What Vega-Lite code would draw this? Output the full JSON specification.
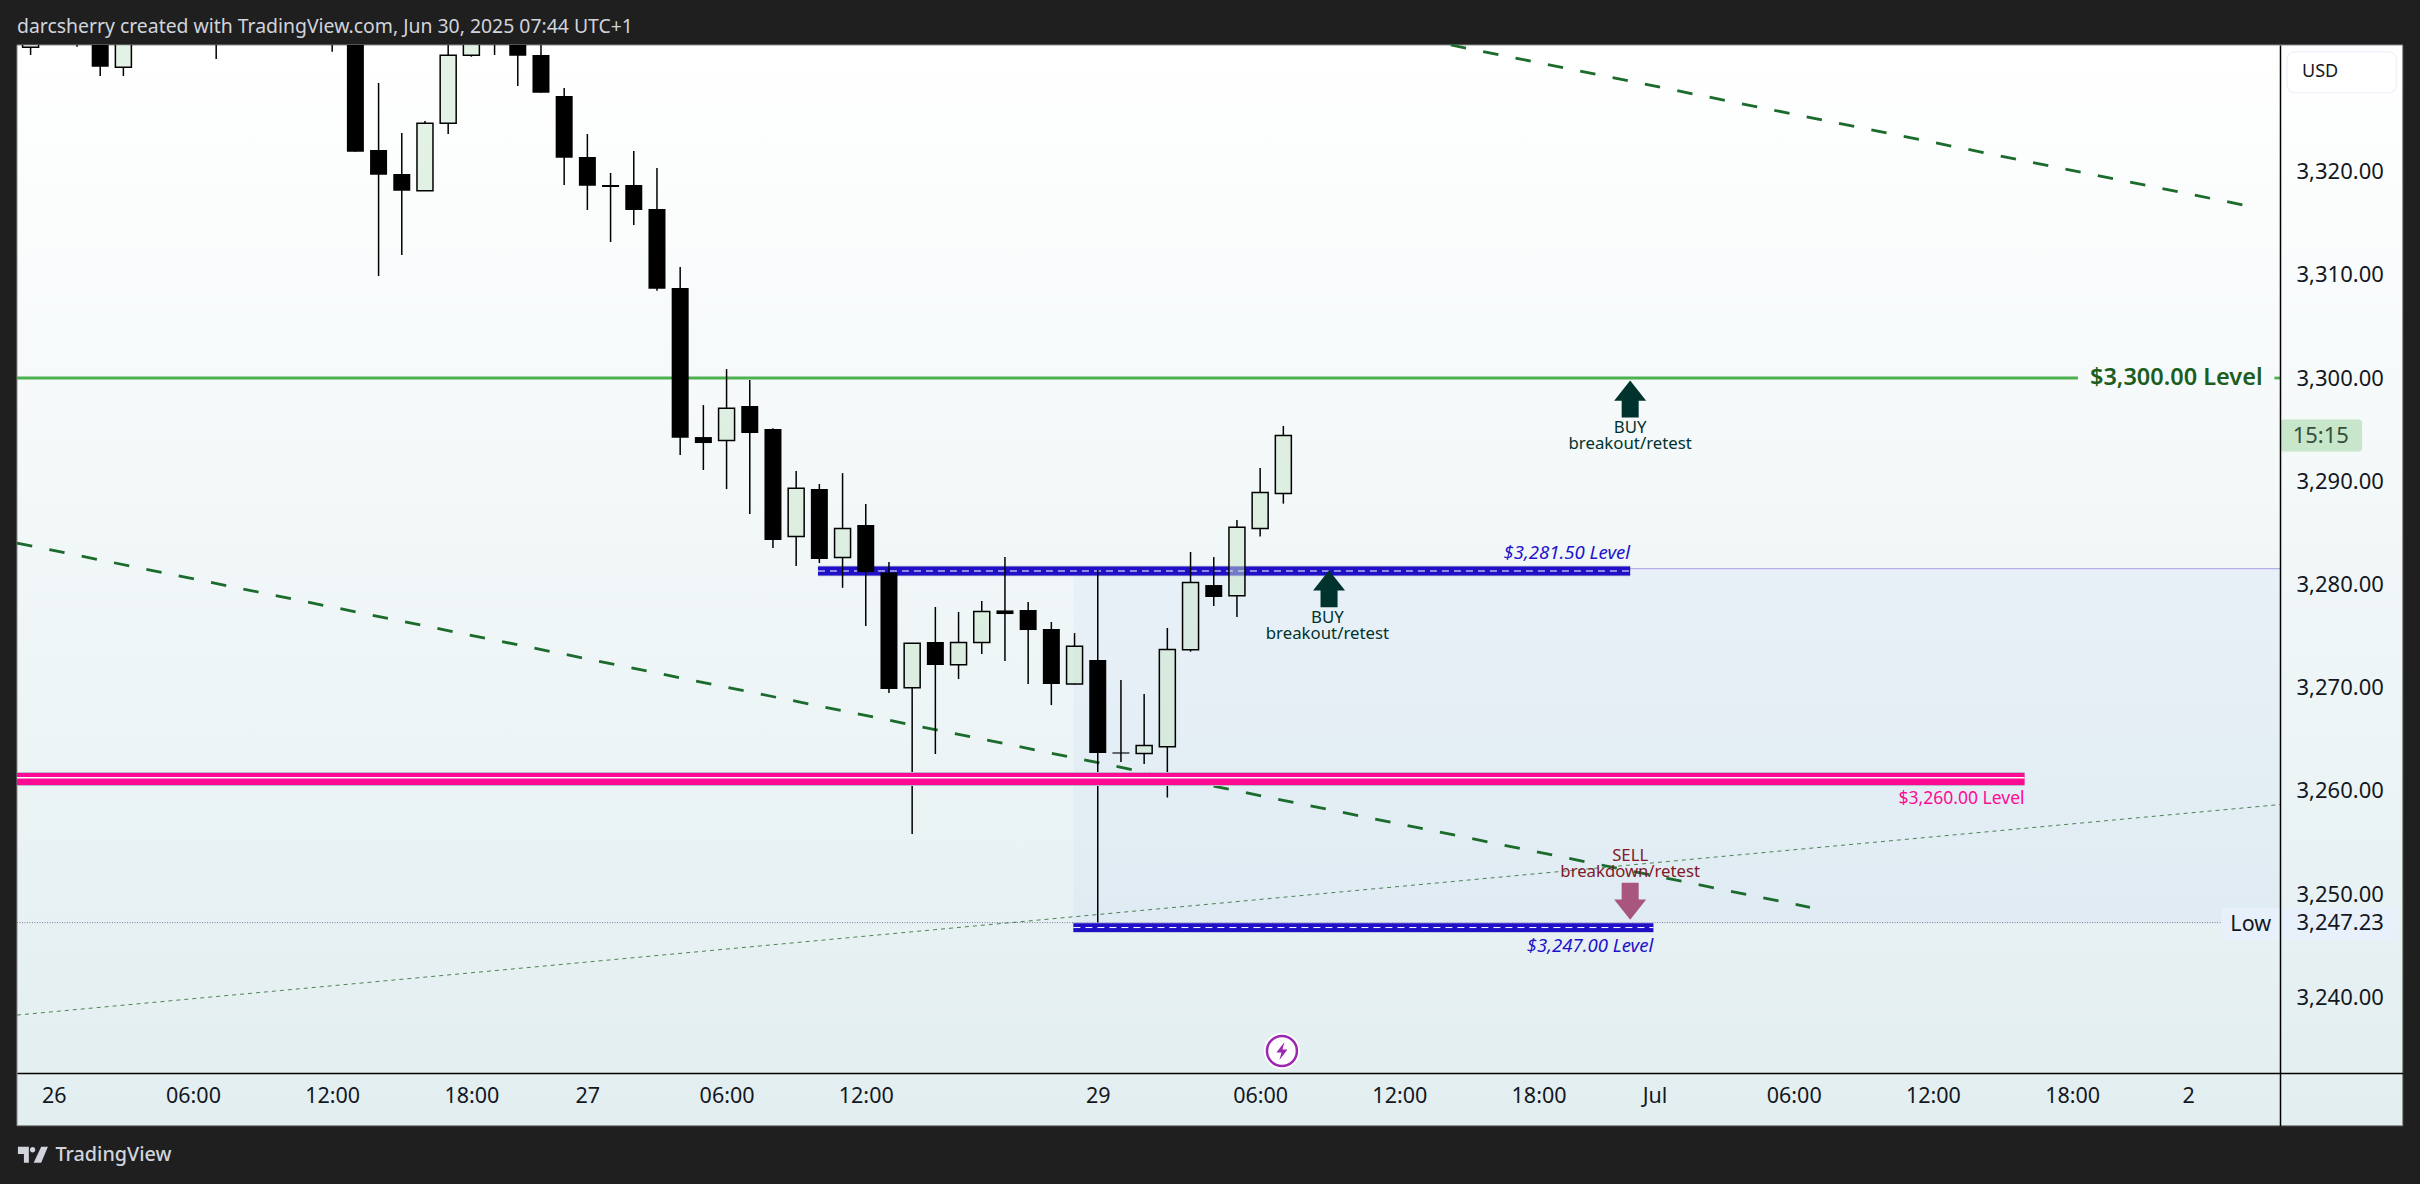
{
  "$schema": "https://vega.github.io/schema/vega-lite/v6.json",
  "width": 2385.7,
  "height": 1080.7,
  "autosize": {"type": "none"},
  "padding": {"left": 17, "top": 45, "right": 17.3, "bottom": 58.3},
  "background": "#1f1f1f",
  "title": {
    "text": "darcsherry created with TradingView.com, Jun 30, 2025 07:44 UTC+1",
    "anchor": "start",
    "frame": "group",
    "color": "#d1d4dc",
    "font": "Noto Sans",
    "fontSize": 19.4,
    "fontWeight": "normal",
    "offset": 6
  },
  "config": {"view": {"stroke": null}, "font": "Noto Sans"},
  "datasets": {
    "panel": [{"bar": -1.586, "bar2": 101.25, "price": 3332.27, "price2": 3227.55}],
    "box": [{"bar": 43.95, "bar2": 95.96, "price": 3281.5, "price2": 3247.23}],
    "thin": [
      {"name": "level", "bar": 67.95, "bar2": 95.96, "price": 3281.53, "price2": 3281.53},
      {"name": "low", "bar": -1.586, "bar2": 93.45, "price": 3247.23, "price2": 3247.23},
      {"name": "rising", "bar": -1.586, "bar2": 95.96, "price": 3238.27, "price2": 3258.67}
    ],
    "trends": [
      {"bar": 60.22, "bar2": 94.4, "price": 3332.27, "price2": 3316.76},
      {"bar": -1.586, "bar2": 75.7, "price": 3284.01, "price2": 3248.71}
    ],
    "green": [
      {"bar": -1.586, "bar2": 87.25, "price": 3300},
      {"bar": 95.72, "bar2": 95.96, "price": 3300}
    ],
    "blue": [
      {"bar": 32.94, "bar2": 67.95, "price": 3281.3},
      {"bar": 43.95, "bar2": 68.95, "price": 3246.75}
    ],
    "pink": [{"bar": -1.586, "bar2": 84.95, "price": 3261.14, "inner": 3261.27}],
    "candles": [
      {"bar": -1, "dir": "up", "open": 3332.04, "high": 3335, "low": 3331.3, "close": 3334},
      {"bar": 1, "dir": "down", "open": 3335, "high": 3336, "low": 3332.1, "close": 3333},
      {"bar": 2, "dir": "down", "open": 3334, "high": 3335, "low": 3329.26, "close": 3330.16},
      {"bar": 3, "dir": "up", "open": 3330.11, "high": 3335, "low": 3329.26, "close": 3334},
      {"bar": 7, "dir": "down", "open": 3335, "high": 3336, "low": 3330.91, "close": 3333},
      {"bar": 12, "dir": "down", "open": 3335, "high": 3336, "low": 3331.62, "close": 3333},
      {"bar": 13, "dir": "down", "open": 3340, "high": 3341, "low": 3321.93, "close": 3321.93},
      {"bar": 14, "dir": "down", "open": 3322.09, "high": 3328.59, "low": 3309.88, "close": 3319.7},
      {"bar": 15, "dir": "down", "open": 3319.77, "high": 3323.74, "low": 3311.92, "close": 3318.15},
      {"bar": 16, "dir": "up", "open": 3318.15, "high": 3324.9, "low": 3318.15, "close": 3324.68},
      {"bar": 17, "dir": "up", "open": 3324.68, "high": 3335, "low": 3323.64, "close": 3331.27},
      {"bar": 18, "dir": "up", "open": 3331.27, "high": 3335, "low": 3331.13, "close": 3334},
      {"bar": 19, "dir": "down", "open": 3335, "high": 3336, "low": 3331.3, "close": 3333},
      {"bar": 20, "dir": "down", "open": 3335, "high": 3336, "low": 3328.29, "close": 3331.23},
      {"bar": 21, "dir": "down", "open": 3331.3, "high": 3334, "low": 3327.65, "close": 3327.65},
      {"bar": 22, "dir": "down", "open": 3327.33, "high": 3328.1, "low": 3318.7, "close": 3321.35},
      {"bar": 23, "dir": "down", "open": 3321.41, "high": 3323.64, "low": 3316.28, "close": 3318.63},
      {"bar": 24, "dir": "down", "open": 3318.7, "high": 3319.86, "low": 3313.18, "close": 3318.51},
      {"bar": 25, "dir": "down", "open": 3318.7, "high": 3321.99, "low": 3314.83, "close": 3316.28},
      {"bar": 26, "dir": "down", "open": 3316.38, "high": 3320.35, "low": 3308.46, "close": 3308.65},
      {"bar": 27, "dir": "down", "open": 3308.72, "high": 3310.76, "low": 3292.54, "close": 3294.21},
      {"bar": 28, "dir": "down", "open": 3294.28, "high": 3297.38, "low": 3291.09, "close": 3293.7},
      {"bar": 29, "dir": "up", "open": 3293.94, "high": 3300.87, "low": 3289.24, "close": 3297.06},
      {"bar": 30, "dir": "down", "open": 3297.29, "high": 3299.81, "low": 3286.82, "close": 3294.67},
      {"bar": 31, "dir": "down", "open": 3295.06, "high": 3295.14, "low": 3283.53, "close": 3284.3},
      {"bar": 32, "dir": "up", "open": 3284.64, "high": 3290.99, "low": 3281.78, "close": 3289.31},
      {"bar": 33, "dir": "down", "open": 3289.24, "high": 3289.73, "low": 3282.07, "close": 3282.46},
      {"bar": 34, "dir": "up", "open": 3282.6, "high": 3290.79, "low": 3279.67, "close": 3285.42},
      {"bar": 35, "dir": "down", "open": 3285.76, "high": 3287.79, "low": 3275.97, "close": 3281.2},
      {"bar": 36, "dir": "down", "open": 3281.15, "high": 3282.17, "low": 3269.48, "close": 3269.86},
      {"bar": 37, "dir": "up", "open": 3269.99, "high": 3274.29, "low": 3255.82, "close": 3274.29},
      {"bar": 38, "dir": "down", "open": 3274.42, "high": 3277.81, "low": 3263.57, "close": 3272.19},
      {"bar": 39, "dir": "up", "open": 3272.22, "high": 3277.33, "low": 3270.83, "close": 3274.37},
      {"bar": 40, "dir": "up", "open": 3274.37, "high": 3278.39, "low": 3273.26, "close": 3277.37},
      {"bar": 41, "dir": "down", "open": 3277.48, "high": 3282.65, "low": 3272.58, "close": 3277.13},
      {"bar": 42, "dir": "down", "open": 3277.52, "high": 3278.29, "low": 3270.35, "close": 3275.58},
      {"bar": 43, "dir": "down", "open": 3275.68, "high": 3276.36, "low": 3268.31, "close": 3270.35},
      {"bar": 44, "dir": "up", "open": 3270.35, "high": 3275.29, "low": 3270.29, "close": 3274},
      {"bar": 45, "dir": "down", "open": 3272.67, "high": 3281.4, "low": 3247.23, "close": 3263.66},
      {"bar": 46, "dir": "down", "open": 3263.72, "high": 3270.74, "low": 3262.79, "close": 3263.61},
      {"bar": 47, "dir": "up", "open": 3263.61, "high": 3269.38, "low": 3262.6, "close": 3264.39},
      {"bar": 48, "dir": "up", "open": 3264.28, "high": 3275.78, "low": 3259.35, "close": 3273.7},
      {"bar": 49, "dir": "up", "open": 3273.66, "high": 3283.14, "low": 3273.48, "close": 3280.19},
      {"bar": 50, "dir": "down", "open": 3279.94, "high": 3282.65, "low": 3277.91, "close": 3278.78},
      {"bar": 51, "dir": "up", "open": 3278.9, "high": 3286.24, "low": 3276.84, "close": 3285.53},
      {"bar": 52, "dir": "up", "open": 3285.42, "high": 3291.28, "low": 3284.64, "close": 3288.91},
      {"bar": 53, "dir": "up", "open": 3288.8, "high": 3295.35, "low": 3287.83, "close": 3294.43}
    ],
    "arrows": [
      {"kind": "buy", "bar": 67.95, "price": 3297.97},
      {"kind": "buy", "bar": 54.97, "price": 3279.58},
      {"kind": "sell", "bar": 67.95, "price": 3249.29}
    ],
    "notes": [
      {"kind": "buy", "bar": 67.95, "price": 3295.17, "text": "BUY"},
      {"kind": "buy", "bar": 67.95, "price": 3293.6, "text": "breakout/retest"},
      {"kind": "buy", "bar": 54.9, "price": 3276.7, "text": "BUY"},
      {"kind": "buy", "bar": 54.9, "price": 3275.2, "text": "breakout/retest"},
      {"kind": "sell", "bar": 67.95, "price": 3253.7, "text": "SELL"},
      {"kind": "sell", "bar": 67.95, "price": 3252.1, "text": "breakdown/retest"}
    ],
    "labels": [
      {"kind": "blue", "bar": 67.95, "price": 3283.04, "text": "$3,281.50 Level"},
      {"kind": "blue", "bar": 68.95, "price": 3244.96, "text": "$3,247.00 Level"},
      {"kind": "pink", "bar": 84.95, "price": 3259.2, "text": "$3,260.00 Level"},
      {"kind": "green", "bar": 87.77, "price": 3300, "text": "$3,300.00 Level"}
    ],
    "tags": [
      {"kind": "low", "bar": 93.45, "bar2": 101.05, "price": 3248.64, "price2": 3245.54},
      {"kind": "timer", "bar": 95.98, "bar2": 99.5, "price": 3295.97, "price2": 3292.89},
      {"kind": "usd", "bar": 96.26, "bar2": 100.98, "price": 3331.62, "price2": 3327.64}
    ],
    "tagText": [
      {"kind": "low", "bar": 94.7, "price": 3246.95, "text": "Low"},
      {"kind": "timer", "bar": 97.72, "price": 3294.4, "text": "15:15"},
      {"kind": "usd", "bar": 96.91, "price": 3329.65, "text": "USD"},
      {"kind": "brand", "bar": 0.07, "price": 3224.71, "text": "TradingView"}
    ],
    "icon": [{"bar": 52.94, "price": 3234.79}],
    "logo": [{"bar": -0.9, "price": 3224.74}]
  },
  "layer": [
    {
      "data": {"name": "panel"},
      "mark": {
        "type": "rect",
        "stroke": "#8a8a8a",
        "strokeWidth": 1,
        "color": {
          "gradient": "linear",
          "x1": 0, "y1": 0, "x2": 0, "y2": 1,
          "stops": [
            {"offset": 0, "color": "#ffffff"},
            {"offset": 1, "color": "#e2eef0"}
          ]
        }
      },
      "encoding": {
        "x": {
          "field": "bar",
          "type": "quantitative",
          "scale": {"domain": [-1.586, 101.25], "nice": false, "zero": false, "padding": 0},
          "axis": {
            "title": null,
            "orient": "bottom",
            "offset": -52.7,
            "grid": false,
            "ticks": false,
            "domainColor": "#000000",
            "domainWidth": 1.5,
            "values": [0, 6, 12, 18, 23, 29, 35, 45, 52, 58, 64, 69, 75, 81, 87, 92],
            "labelExpr": "({0:'26',6:'06:00',12:'12:00',18:'18:00',23:'27',29:'06:00',35:'12:00',45:'29',52:'06:00',58:'12:00',64:'18:00',69:'Jul',75:'06:00',81:'12:00',87:'18:00',92:'2'})[datum.value]",
            "labelFont": "Noto Sans",
            "labelFontSize": 21.5,
            "labelColor": "#131722",
            "labelPadding": 12,
            "labelOverlap": false,
            "labelFlush": false,
            "zindex": 1
          }
        },
        "x2": {"field": "bar2"},
        "y": {
          "field": "price",
          "type": "quantitative",
          "scale": {"domain": [3227.55, 3332.27], "nice": false, "zero": false, "padding": 0},
          "axis": {
            "title": null,
            "orient": "right",
            "offset": -122.7,
            "grid": false,
            "ticks": false,
            "domainColor": "#000000",
            "domainWidth": 1.5,
            "values": [3240, 3247.23, 3250, 3260, 3270, 3280, 3290, 3300, 3310, 3320],
            "format": ",.2f",
            "labelFont": "Noto Sans",
            "labelFontSize": 22,
            "labelColor": "#131722",
            "labelPadding": 16,
            "labelOverlap": false,
            "labelFlush": false,
            "zindex": 1
          }
        },
        "y2": {"field": "price2"}
      }
    },
    {
      "data": {"name": "box"},
      "mark": {"type": "rect", "color": "#2962ff", "opacity": 0.04},
      "encoding": {
        "x": {"field": "bar", "type": "quantitative"},
        "x2": {"field": "bar2"},
        "y": {"field": "price", "type": "quantitative"},
        "y2": {"field": "price2"}
      }
    },
    {
      "data": {"name": "thin"},
      "transform": [{"filter": "datum.name === 'level'"}],
      "mark": {"type": "rule", "color": "#b7b0e8", "strokeWidth": 1.2},
      "encoding": {
        "x": {"field": "bar", "type": "quantitative"},
        "x2": {"field": "bar2"},
        "y": {"field": "price", "type": "quantitative"}
      }
    },
    {
      "data": {"name": "thin"},
      "transform": [{"filter": "datum.name === 'low'"}],
      "mark": {"type": "rule", "color": "#7a7aa0", "strokeWidth": 1, "strokeDash": [1, 1.5]},
      "encoding": {
        "x": {"field": "bar", "type": "quantitative"},
        "x2": {"field": "bar2"},
        "y": {"field": "price", "type": "quantitative"}
      }
    },
    {
      "data": {"name": "thin"},
      "transform": [{"filter": "datum.name === 'rising'"}],
      "mark": {"type": "rule", "color": "#1b5e20", "opacity": 0.75, "strokeWidth": 1, "strokeDash": [4, 4]},
      "encoding": {
        "x": {"field": "bar", "type": "quantitative"},
        "x2": {"field": "bar2"},
        "y": {"field": "price", "type": "quantitative"},
        "y2": {"field": "price2"}
      }
    },
    {
      "data": {"name": "trends"},
      "mark": {"type": "rule", "color": "#1b6b2c", "strokeWidth": 2.8, "strokeDash": [15.5, 17.5]},
      "encoding": {
        "x": {"field": "bar", "type": "quantitative"},
        "x2": {"field": "bar2"},
        "y": {"field": "price", "type": "quantitative"},
        "y2": {"field": "price2"}
      }
    },
    {
      "data": {"name": "green"},
      "mark": {"type": "rule", "color": "#4caf50", "strokeWidth": 2.8},
      "encoding": {
        "x": {"field": "bar", "type": "quantitative"},
        "x2": {"field": "bar2"},
        "y": {"field": "price", "type": "quantitative"}
      }
    },
    {
      "data": {"name": "blue"},
      "mark": {"type": "rule", "color": "#b9bad6", "strokeWidth": 10.5},
      "encoding": {
        "x": {"field": "bar", "type": "quantitative"},
        "x2": {"field": "bar2"},
        "y": {"field": "price", "type": "quantitative"}
      }
    },
    {
      "data": {"name": "blue"},
      "mark": {"type": "rule", "color": "#1f10c8", "strokeWidth": 8.8},
      "encoding": {
        "x": {"field": "bar", "type": "quantitative"},
        "x2": {"field": "bar2"},
        "y": {"field": "price", "type": "quantitative"}
      }
    },
    {
      "data": {"name": "blue"},
      "mark": {"type": "rule", "color": "#ffffff", "strokeWidth": 1, "strokeDash": [7, 5]},
      "encoding": {
        "x": {"field": "bar", "type": "quantitative"},
        "x2": {"field": "bar2"},
        "y": {"field": "price", "type": "quantitative"}
      }
    },
    {
      "data": {"name": "candles"},
      "transform": [{"filter": "datum.dir === 'down'"}],
      "mark": {"type": "rule", "color": "#000000", "strokeWidth": 1.5, "clip": true},
      "encoding": {
        "x": {"field": "bar", "type": "quantitative"},
        "y": {"field": "high", "type": "quantitative"},
        "y2": {"field": "low"}
      }
    },
    {
      "data": {"name": "candles"},
      "transform": [{"filter": "datum.dir === 'up'"}],
      "mark": {"type": "rule", "color": "#000000", "strokeWidth": 1.5, "clip": true},
      "encoding": {
        "x": {"field": "bar", "type": "quantitative"},
        "y": {"field": "high", "type": "quantitative"},
        "y2": {"field": "close"}
      }
    },
    {
      "data": {"name": "candles"},
      "transform": [{"filter": "datum.dir === 'up'"}],
      "mark": {"type": "rule", "color": "#000000", "strokeWidth": 1.5, "clip": true},
      "encoding": {
        "x": {"field": "bar", "type": "quantitative"},
        "y": {"field": "open", "type": "quantitative"},
        "y2": {"field": "low"}
      }
    },
    {
      "data": {"name": "candles"},
      "transform": [{"filter": "datum.dir === 'down'"}],
      "mark": {"type": "bar", "size": 17, "color": "#000000", "clip": true},
      "encoding": {
        "x": {"field": "bar", "type": "quantitative"},
        "y": {"field": "open", "type": "quantitative"},
        "y2": {"field": "close"}
      }
    },
    {
      "data": {"name": "candles"},
      "transform": [{"filter": "datum.dir === 'up'"}],
      "mark": {"type": "bar", "size": 16, "fill": "#c8e6c9", "fillOpacity": 0.5, "stroke": "#000000", "strokeWidth": 1.5, "clip": true},
      "encoding": {
        "x": {"field": "bar", "type": "quantitative"},
        "y": {"field": "open", "type": "quantitative"},
        "y2": {"field": "close"}
      }
    },
    {
      "data": {"name": "pink"},
      "mark": {"type": "rule", "color": "#b9bcc8", "strokeWidth": 14},
      "encoding": {
        "x": {"field": "bar", "type": "quantitative"},
        "x2": {"field": "bar2"},
        "y": {"field": "price", "type": "quantitative"}
      }
    },
    {
      "data": {"name": "pink"},
      "mark": {"type": "rule", "color": "#ff0a94", "strokeWidth": 12},
      "encoding": {
        "x": {"field": "bar", "type": "quantitative"},
        "x2": {"field": "bar2"},
        "y": {"field": "price", "type": "quantitative"}
      }
    },
    {
      "data": {"name": "pink"},
      "mark": {"type": "rule", "color": "#ffffff", "strokeWidth": 1.5},
      "encoding": {
        "x": {"field": "bar", "type": "quantitative"},
        "x2": {"field": "bar2"},
        "y": {"field": "inner", "type": "quantitative"}
      }
    },
    {
      "data": {"name": "arrows"},
      "transform": [{"filter": "datum.kind === 'buy'"}],
      "mark": {
        "type": "point",
        "filled": true,
        "opacity": 1,
        "size": 1369,
        "color": "#00332e",
        "shape": "M0,-1L0.865,0.1L0.46,0.1L0.46,1L-0.46,1L-0.46,0.1L-0.865,0.1Z"
      },
      "encoding": {
        "x": {"field": "bar", "type": "quantitative"},
        "y": {"field": "price", "type": "quantitative"}
      }
    },
    {
      "data": {"name": "arrows"},
      "transform": [{"filter": "datum.kind === 'sell'"}],
      "mark": {
        "type": "point",
        "filled": true,
        "opacity": 1,
        "size": 1369,
        "color": "#a8557f",
        "shape": "M0,1L0.865,-0.1L0.46,-0.1L0.46,-1L-0.46,-1L-0.46,-0.1L-0.865,-0.1Z"
      },
      "encoding": {
        "x": {"field": "bar", "type": "quantitative"},
        "y": {"field": "price", "type": "quantitative"}
      }
    },
    {
      "data": {"name": "notes"},
      "transform": [{"filter": "datum.kind === 'buy'"}],
      "mark": {"type": "text", "font": "Noto Sans", "fontSize": 16.8, "color": "#00332e"},
      "encoding": {
        "x": {"field": "bar", "type": "quantitative"},
        "y": {"field": "price", "type": "quantitative"},
        "text": {"field": "text"}
      }
    },
    {
      "data": {"name": "notes"},
      "transform": [{"filter": "datum.kind === 'sell'"}],
      "mark": {"type": "text", "font": "Noto Sans", "fontSize": 16.7, "color": "#801928"},
      "encoding": {
        "x": {"field": "bar", "type": "quantitative"},
        "y": {"field": "price", "type": "quantitative"},
        "text": {"field": "text"}
      }
    },
    {
      "data": {"name": "labels"},
      "transform": [{"filter": "datum.kind === 'blue'"}],
      "mark": {"type": "text", "font": "Noto Sans", "fontSize": 18.6, "fontStyle": "italic", "align": "right", "color": "#2212cc"},
      "encoding": {
        "x": {"field": "bar", "type": "quantitative"},
        "y": {"field": "price", "type": "quantitative"},
        "text": {"field": "text"}
      }
    },
    {
      "data": {"name": "labels"},
      "transform": [{"filter": "datum.kind === 'pink'"}],
      "mark": {"type": "text", "font": "Noto Sans", "fontSize": 17.5, "align": "right", "color": "#ff0a94"},
      "encoding": {
        "x": {"field": "bar", "type": "quantitative"},
        "y": {"field": "price", "type": "quantitative"},
        "text": {"field": "text"}
      }
    },
    {
      "data": {"name": "labels"},
      "transform": [{"filter": "datum.kind === 'green'"}],
      "mark": {"type": "text", "font": "Noto Sans", "fontSize": 23.5, "fontWeight": 600, "align": "left", "color": "#1b5e20"},
      "encoding": {
        "x": {"field": "bar", "type": "quantitative"},
        "y": {"field": "price", "type": "quantitative"},
        "text": {"field": "text"}
      }
    },
    {
      "data": {"name": "tags"},
      "transform": [{"filter": "datum.kind === 'low'"}],
      "mark": {"type": "rect", "color": "#e8f0fb"},
      "encoding": {
        "x": {"field": "bar", "type": "quantitative"},
        "x2": {"field": "bar2"},
        "y": {"field": "price", "type": "quantitative"},
        "y2": {"field": "price2"}
      }
    },
    {
      "data": {"name": "tags"},
      "transform": [{"filter": "datum.kind === 'timer'"}],
      "mark": {"type": "rect", "color": "#c8e6c9", "cornerRadius": 3},
      "encoding": {
        "x": {"field": "bar", "type": "quantitative"},
        "x2": {"field": "bar2"},
        "y": {"field": "price", "type": "quantitative"},
        "y2": {"field": "price2"}
      }
    },
    {
      "data": {"name": "tags"},
      "transform": [{"filter": "datum.kind === 'usd'"}],
      "mark": {"type": "rect", "fill": "#ffffff", "stroke": "#f0f3fa", "strokeWidth": 1.5, "cornerRadius": 8},
      "encoding": {
        "x": {"field": "bar", "type": "quantitative"},
        "x2": {"field": "bar2"},
        "y": {"field": "price", "type": "quantitative"},
        "y2": {"field": "price2"}
      }
    },
    {
      "data": {"name": "tagText"},
      "transform": [{"filter": "datum.kind === 'low'"}],
      "mark": {"type": "text", "font": "Noto Sans", "fontSize": 21.5, "color": "#131722"},
      "encoding": {
        "x": {"field": "bar", "type": "quantitative"},
        "y": {"field": "price", "type": "quantitative"},
        "text": {"field": "text"}
      }
    },
    {
      "data": {"name": "tagText"},
      "transform": [{"filter": "datum.kind === 'timer'"}],
      "mark": {"type": "text", "font": "Noto Sans", "fontSize": 22, "color": "#35503c"},
      "encoding": {
        "x": {"field": "bar", "type": "quantitative"},
        "y": {"field": "price", "type": "quantitative"},
        "text": {"field": "text"}
      }
    },
    {
      "data": {"name": "tagText"},
      "transform": [{"filter": "datum.kind === 'usd'"}],
      "mark": {"type": "text", "font": "Noto Sans", "fontSize": 18, "align": "left", "color": "#131722"},
      "encoding": {
        "x": {"field": "bar", "type": "quantitative"},
        "y": {"field": "price", "type": "quantitative"},
        "text": {"field": "text"}
      }
    },
    {
      "data": {"name": "tagText"},
      "transform": [{"filter": "datum.kind === 'brand'"}],
      "mark": {"type": "text", "font": "Noto Sans", "fontSize": 19.8, "fontWeight": 500, "align": "left", "color": "#d1d4dc"},
      "encoding": {
        "x": {"field": "bar", "type": "quantitative"},
        "y": {"field": "price", "type": "quantitative"},
        "text": {"field": "text"}
      }
    },
    {
      "data": {"name": "logo"},
      "mark": {
        "type": "point",
        "filled": true,
        "opacity": 1,
        "size": 900,
        "color": "#d1d4dc",
        "shape": "M-1,-0.53L-0.27,-0.53L-0.27,0.53L-0.6,0.53L-0.6,-0.05L-1,-0.05ZM-0.2,-0.33a0.18,0.18 0 1,0 0.36,0a0.18,0.18 0 1,0 -0.36,0ZM0.55,-0.53L1,-0.53L0.55,0.53L0.05,0.53Z"
      },
      "encoding": {
        "x": {"field": "bar", "type": "quantitative"},
        "y": {"field": "price", "type": "quantitative"}
      }
    },
    {
      "data": {"name": "icon"},
      "mark": {"type": "point", "shape": "circle", "filled": true, "opacity": 1, "size": 1300, "color": "#ffffff"},
      "encoding": {
        "x": {"field": "bar", "type": "quantitative"},
        "y": {"field": "price", "type": "quantitative"}
      }
    },
    {
      "data": {"name": "icon"},
      "mark": {"type": "point", "shape": "circle", "filled": false, "opacity": 1, "size": 900, "color": "#9c27b0", "strokeWidth": 2.5},
      "encoding": {
        "x": {"field": "bar", "type": "quantitative"},
        "y": {"field": "price", "type": "quantitative"}
      }
    },
    {
      "data": {"name": "icon"},
      "mark": {
        "type": "point",
        "filled": true,
        "opacity": 1,
        "size": 400,
        "color": "#9c27b0",
        "shape": "M0.25,-0.9L-0.55,0.15L-0.05,0.15L-0.25,0.9L0.55,-0.15L0.05,-0.15Z"
      },
      "encoding": {
        "x": {"field": "bar", "type": "quantitative"},
        "y": {"field": "price", "type": "quantitative"}
      }
    }
  ]
}
